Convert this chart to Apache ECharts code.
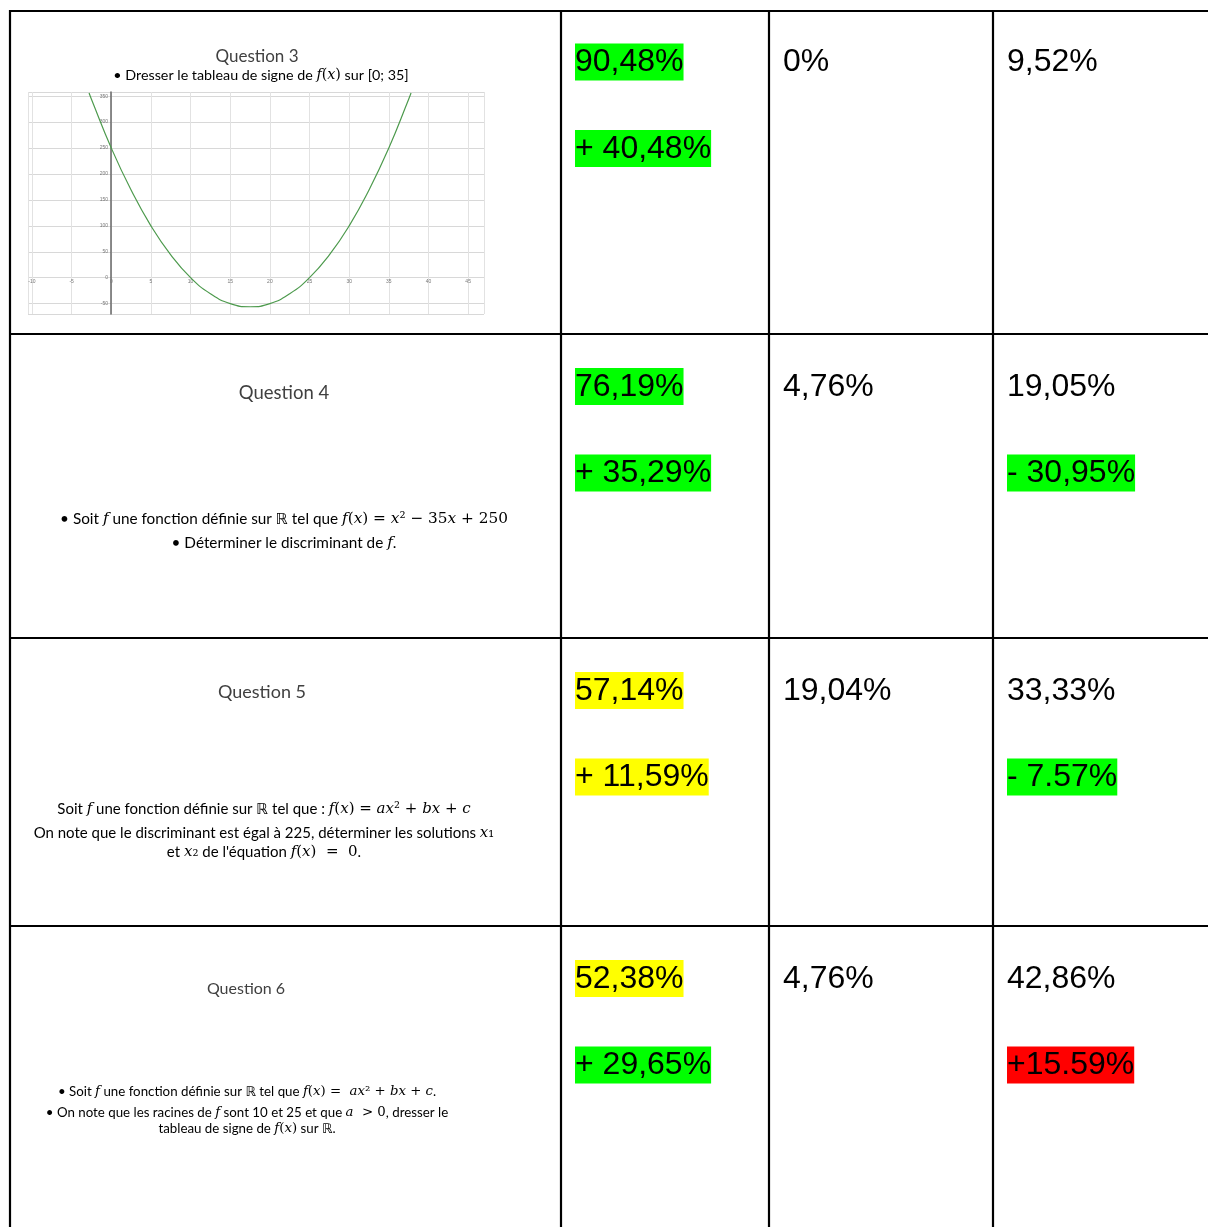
<!DOCTYPE html>
<html>
<head>
<meta charset="utf-8">
<script src="https://cdn.jsdelivr.net/npm/echarts@6/dist/echarts.min.js"></script>
<style>
  html, body { margin: 0; padding: 0; background: #fff; }
  #main { width: 1208px; height: 1227px; }
</style>
</head>
<body>
<div id="main"></div>
<script>
// données du tableau
const questions = ['Question 3', 'Question 4', 'Question 5', 'Question 6'];
const questionLines = [
  ['• Dresser le tableau de signe de $f(x)$ sur [0; 35]'],
  ['• Soit $f$ une fonction définie sur ℝ tel que $f(x) = x² − 35x + 250$',
   '• Déterminer le discriminant de $f$.'],
  ['Soit $f$ une fonction définie sur ℝ tel que : $f(x) = ax² + bx + c$',
   'On note que le discriminant est égal à 225, déterminer les solutions $x₁$',
   'et $x₂$ de l\'équation $f(x)  =  0$.'],
  ['• Soit $f$ une fonction définie sur ℝ tel que $f(x) =  ax² + bx + c$.',
   '• On note que les racines de $f$ sont 10 et 25 et que $a  > 0$, dresser le',
   'tableau de signe de $f(x)$ sur ℝ.']
];
const correctRates = ['90,48%', '76,19%', '57,14%', '52,38%'];
const correctDeltas = ['+ 40,48%', '+ 35,29%', '+ 11,59%', '+ 29,65%'];
const blankRates = ['0%', '4,76%', '19,04%', '4,76%'];
const wrongRates = ['9,52%', '19,05%', '33,33%', '42,86%'];
const wrongDeltas = [null, '- 30,95%', '- 7.57%', '+15.59%'];
const correctRateColors = ['#00ff00', '#00ff00', '#ffff00', '#ffff00'];
const correctDeltaColors = ['#00ff00', '#00ff00', '#ffff00', '#00ff00'];
const wrongDeltaColors = [null, '#00ff00', '#00ff00', '#ff0000'];

// courbe de la question 3
const curveX = [-2.8, -2.5, 0, 2.5, 5, 7.5, 10, 12.5, 15, 17.5, 20, 22.5, 25, 27.5, 30, 32.5, 35, 37.5, 37.8];
const curveY = [356, 344, 250, 169, 100, 44, 0, -31, -50, -56, -50, -31, 0, 44, 100, 169, 250, 344, 356];

const chart = echarts.init(document.getElementById('main'));

// mise en page
const colLines = [10, 561, 769, 993];
const rowLines = [11, 334, 638, 926];
const colX = [575, 783, 1007];
const rowTop = [43.5, 368, 672, 960];
const lineGap = 86.5;
const titlePos = [[257, 57, 17], [284, 393, 18.5], [262, 692, 18], [246, 989, 16]];
const textPos = [
  { x: 261, y: [75], size: 14.3 },
  { x: 284, y: [519, 543], size: 15.3 },
  { x: 264, y: [809, 833, 852], size: 15 },
  { x: 247, y: [1092, 1113, 1129], size: 13.3 }
];

// transforme "$...$" en texte riche (lettres en italique)
function mathRich (str) {
  const parts = str.split('$')
  let out = ''
  parts.forEach((p, i) => {
    if (!p) return
    if (i % 2 === 0) {
      out += '{t|' + p + '}'
    } else {
      for (const ch of p) {
        out += (/[a-z]/.test(ch) ? '{m|' : '{n|') + ch + '}'
      }
    }
  })
  return out
}

function richStyles (size) {
  return {
    t: { fontFamily: 'Lato, "DejaVu Sans", sans-serif', fontSize: size, color: '#000' },
    m: { fontFamily: '"DejaVu Serif", serif', fontStyle: 'italic', fontSize: size, color: '#000' },
    n: { fontFamily: '"DejaVu Serif", serif', fontSize: size, color: '#000' }
  }
}

function pct (text, x, y, bg) {
  return {
    type: 'text',
    x: x,
    y: y,
    style: {
      text: text,
      font: '32px "Liberation Sans", Arial, sans-serif',
      fill: '#000',
      backgroundColor: bg || 'transparent',
      lineHeight: 34,
      padding: [2, 0, 1, 0],
      verticalAlign: 'top',
      textVerticalAlign: 'top'
    }
  }
}

const graphics = []
// lignes du tableau
colLines.forEach(x => {
  graphics.push({ type: 'line', shape: { x1: x, y1: 10, x2: x, y2: 1227 }, style: { stroke: '#000', lineWidth: 2.2 } })
})
rowLines.forEach(y => {
  graphics.push({ type: 'line', shape: { x1: 9, y1: y, x2: 1208, y2: y }, style: { stroke: '#000', lineWidth: 2.2 } })
})
// textes des questions
questions.forEach((q, i) => {
  graphics.push({
    type: 'text',
    x: titlePos[i][0],
    y: titlePos[i][1],
    style: {
      text: q,
      font: titlePos[i][2] + 'px Lato, sans-serif',
      fill: '#404040',
      align: 'center', verticalAlign: 'middle',
      textAlign: 'center', textVerticalAlign: 'middle'
    }
  })
  questionLines[i].forEach((line, j) => {
    graphics.push({
      type: 'text',
      x: textPos[i].x,
      y: textPos[i].y[j],
      style: {
        text: mathRich(line),
        rich: richStyles(textPos[i].size),
        align: 'center', verticalAlign: 'middle',
        textAlign: 'center', textVerticalAlign: 'middle'
      }
    })
  })
  // pourcentages
  graphics.push(pct(correctRates[i], colX[0], rowTop[i], correctRateColors[i]))
  graphics.push(pct(correctDeltas[i], colX[0], rowTop[i] + lineGap, correctDeltaColors[i]))
  graphics.push(pct(blankRates[i], colX[1], rowTop[i], null))
  graphics.push(pct(wrongRates[i], colX[2], rowTop[i], null))
  if (wrongDeltas[i]) {
    graphics.push(pct(wrongDeltas[i], colX[2], rowTop[i] + lineGap, wrongDeltaColors[i]))
  }
})

const option = {
  animation: false,
  backgroundColor: '#fff',
  grid: { left: 28, top: 92, width: 456, height: 222 },
  xAxis: {
    type: 'value',
    min: -10.5,
    max: 47,
    minInterval: 5,
    maxInterval: 5,
    splitNumber: 11,
    position: 'bottom',
    offset: -36, // axe placé sur y = 0
    axisLine: { show: false, onZero: false },
    axisTick: { show: false },
    axisLabel: { fontSize: 5, color: '#777', margin: 1, showMinLabel: false, showMaxLabel: false },
    splitLine: { lineStyle: { color: '#e2e2e2', width: 1 } }
  },
  yAxis: {
    type: 'value',
    min: -70,
    max: 358,
    minInterval: 50,
    maxInterval: 50,
    splitNumber: 9,
    position: 'left',
    offset: -83, // axe placé sur x = 0
    axisLine: { show: true, onZero: false, lineStyle: { color: '#666', width: 1.5 } },
    axisTick: { show: false },
    axisLabel: { fontSize: 5, color: '#777', margin: 3, showMinLabel: false, showMaxLabel: false },
    splitLine: { lineStyle: { color: '#d8d8d8', width: 1 } }
  },
  series: [{
    type: 'line',
    data: curveX.map((x, i) => [x, curveY[i]]),
    smooth: true,
    showSymbol: false,
    lineStyle: { color: '#4d9a4d', width: 1.2 }
  }],
  graphic: graphics
}
chart.setOption(option)
</script>
</body>
</html>
